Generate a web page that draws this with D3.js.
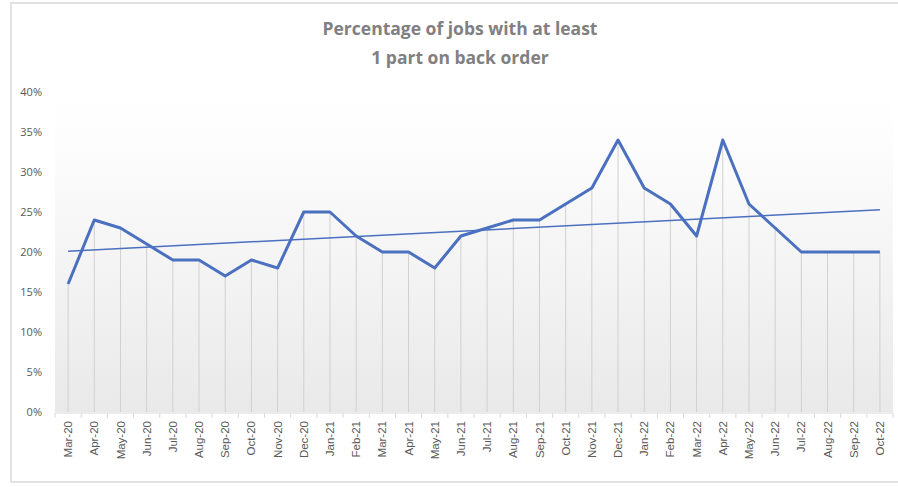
<!DOCTYPE html>
<html>
<head>
<meta charset="utf-8">
<script src="https://cdn.jsdelivr.net/npm/d3@7"></script>
<style>
  body { margin: 0; background: #fff; }
  svg { display: block; font-family: "Open Sans", "Liberation Sans", sans-serif; }
</style>
</head>
<body>
<svg id="drawing_region"></svg>
<script>
const months = ["Mar-20","Apr-20","May-20","Jun-20","Jul-20","Aug-20","Sep-20","Oct-20","Nov-20","Dec-20",
    "Jan-21","Feb-21","Mar-21","Apr-21","May-21","Jun-21","Jul-21","Aug-21","Sep-21","Oct-21","Nov-21","Dec-21",
    "Jan-22","Feb-22","Mar-22","Apr-22","May-22","Jun-22","Jul-22","Aug-22","Sep-22","Oct-22"];
const pct = [16,24,23,21,19,19,17,19,18,25,
    25,22,20,20,18,22,23,24,24,26,28,34,
    28,26,22,34,26,23,20,20,20,20];
const yTicks = [0,5,10,15,20,25,30,35,40];
const titleLines = ["Percentage of jobs with at least", "1 part on back order"];

const width = 898, height = 487;
const plot = {left: 55, right: 893, top: 92, bottom: 412};

const svg = d3.select('#drawing_region')
    .attr('width', width)
    .attr('height', height);

// chart border
svg.append('rect')
    .attr('x', 11).attr('y', 3)
    .attr('width', 900).attr('height', 479)
    .attr('fill', '#fff')
    .attr('stroke', '#d9d9d9')
    .attr('stroke-width', 1.5);

const defs = svg.append('defs');
const grad = defs.append('linearGradient')
    .attr('id', 'bg').attr('x1', 0).attr('x2', 0).attr('y1', 0).attr('y2', 1);
grad.append('stop').attr('offset', '0%').attr('stop-color', '#ffffff');
grad.append('stop').attr('offset', '15%').attr('stop-color', '#fdfdfd');
grad.append('stop').attr('offset', '100%').attr('stop-color', '#e9e9e9');

const x = d3.scaleBand()
    .domain(months)
    .range([plot.left, plot.right]);

const y = d3.scaleLinear()
    .domain([0, 40])
    .range([plot.bottom, plot.top]);

svg.append('rect')
    .attr('x', plot.left).attr('y', plot.top)
    .attr('width', plot.right - plot.left)
    .attr('height', plot.bottom - plot.top)
    .attr('fill', 'url(#bg)');

const cx = d => x(d) + x.bandwidth() / 2;

// drop lines
svg.append('g')
    .selectAll('line')
    .data(months)
    .join('line')
    .attr('x1', d => cx(d)).attr('x2', d => cx(d))
    .attr('y1', (d, i) => y(pct[i]))
    .attr('y2', y(0))
    .attr('stroke', '#d0d0d0')
    .attr('stroke-width', 1);

// y axis labels
svg.append('g')
    .selectAll('text')
    .data(yTicks)
    .join('text')
    .attr('x', 42)
    .attr('y', d => y(d))
    .attr('dy', '0.35em')
    .attr('text-anchor', 'end')
    .attr('font-size', 11)
    .attr('fill', '#595959')
    .text(d => d + '%');

// x axis
const xaxis = svg.append('g')
    .attr('transform', `translate(0, ${plot.bottom + 1})`);
xaxis.append('line')
    .attr('x1', plot.left).attr('x2', plot.right)
    .attr('stroke', '#d9d9d9');
xaxis.selectAll('line.tick')
    .data(months.concat(['end']))
    .join('line')
    .attr('class', 'tick')
    .attr('x1', (d, i) => plot.left + i * x.bandwidth())
    .attr('x2', (d, i) => plot.left + i * x.bandwidth())
    .attr('y1', 0).attr('y2', 5)
    .attr('stroke', '#d9d9d9');
xaxis.selectAll('text')
    .data(months)
    .join('text')
    .attr('transform', d => `translate(${cx(d)}, 8) rotate(-90)`)
    .attr('dy', '0.35em')
    .attr('text-anchor', 'end')
    .attr('font-family', '"Liberation Sans", Arial, sans-serif')
    .attr('font-size', 11.5)
    .attr('fill', '#595959')
    .text(d => d);

// series line
const pts = months.map((m, i) => [cx(m), y(pct[i])]);
svg.append('path')
    .attr('d', d3.line()(pts))
    .attr('fill', 'none')
    .attr('stroke', '#4a70bf')
    .attr('stroke-width', 3)
    .attr('stroke-linejoin', 'round');

// linear trendline (least squares)
const n = pct.length;
const mx = d3.mean(d3.range(n));
const my = d3.mean(pct);
const slope = d3.sum(pct, (v, i) => (i - mx) * (v - my)) / d3.sum(d3.range(n), i => (i - mx) ** 2);
const icpt = my - slope * mx;
svg.append('line')
    .attr('x1', cx(months[0])).attr('y1', y(icpt))
    .attr('x2', cx(months[n - 1])).attr('y2', y(icpt + slope * (n - 1)))
    .attr('stroke', '#4a70bf')
    .attr('stroke-width', 1.5);

// title
svg.append('g')
    .selectAll('text')
    .data(titleLines)
    .join('text')
    .attr('x', 460)
    .attr('y', (d, i) => 35 + i * 29)
    .attr('text-anchor', 'middle')
    .attr('font-size', 17.5)
    .attr('font-weight', 'bold')
    .attr('fill', '#808080')
    .text(d => d);
</script>
</body>
</html>
